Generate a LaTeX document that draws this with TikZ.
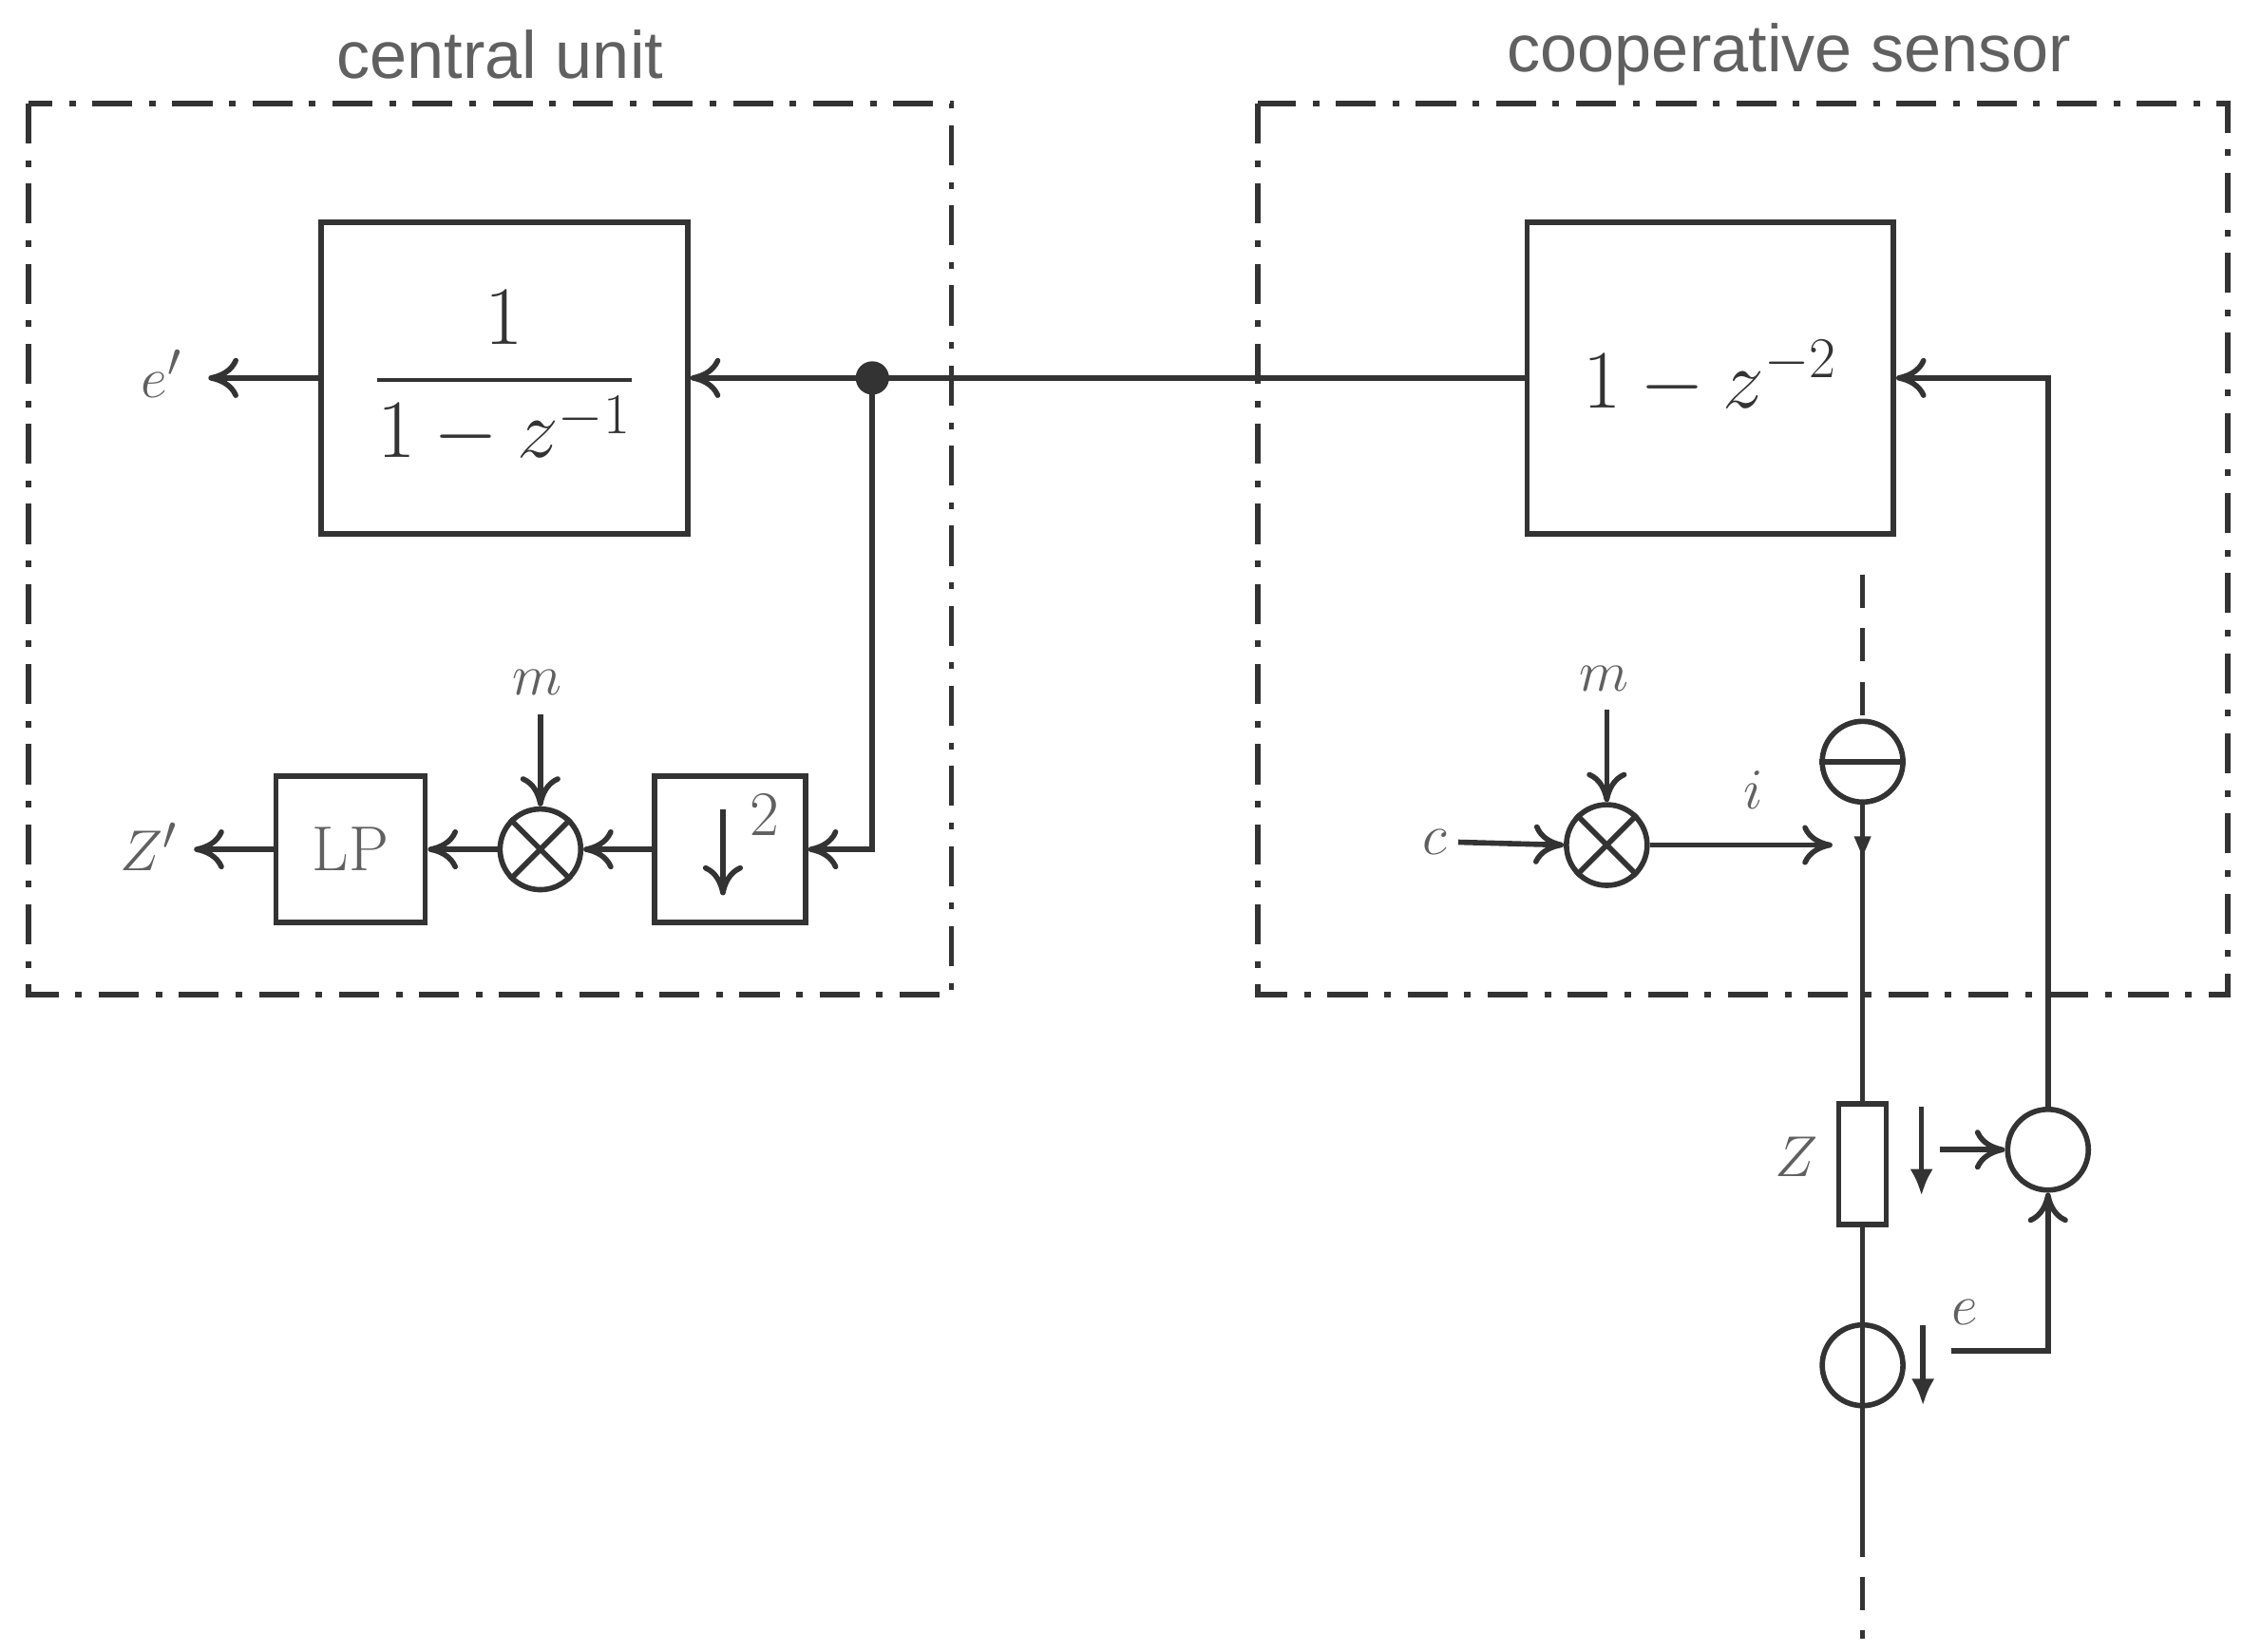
\documentclass[tikz,border=0pt]{standalone}
\usepackage{fontspec}
\usepackage{amsmath}
\setsansfont{Liberation Sans}
\usetikzlibrary{arrows.meta}
\usetikzlibrary{calc}
\usetikzlibrary{positioning}
\definecolor{mygray}{HTML}{333333}
\definecolor{mylabel}{HTML}{606060}
\tikzset{every node/.style={text=mygray}}
\tikzstyle{block} = [draw=mygray, fill=white, line width=1.6pt, inner sep=0pt]
\tikzstyle{ln} = [draw=mygray, line width=1.6pt, -{To[length=9pt,width=12pt]}]
\tikzstyle{wire} = [draw=mygray, line width=1.6pt]
\tikzstyle{frame} = [draw=mygray, line width=1.6pt, dash pattern=on 12pt off 5pt on 2pt off 5pt]
\tikzstyle{mix} = [circle, draw=mygray, line width=1.6pt, minimum size=0.85cm, inner sep=0pt]
\tikzstyle{lbl} = [text=mylabel, font={\fontsize{19}{22}\selectfont}]
\begin{document}
\begin{tikzpicture}[x=0.01513cm, y=-0.01513cm]
  \useasboundingbox (0,0) rectangle (1560,1149);
  % frames
  \draw[frame] (20,72) rectangle (662,692);
  \draw[frame] (875,72) rectangle (1550,692);
  \node[text=mylabel, font={\sffamily\fontsize{20}{24}\selectfont}] at (348,38) {central unit};
  \node[text=mylabel, font={\sffamily\fontsize{20}{24}\selectfont}] at (1245,38) {cooperative sensor};
  % central unit
  \node[block, minimum width=3.86cm, minimum height=3.28cm, font={\fontsize{23}{27}\selectfont}] (integ) at (351,263) {$\dfrac{1}{1-z^{-1}}$};
  \coordinate (junc) at (607,263);
  \coordinate (eout) at (145,263);
  \node[lbl, anchor=east] at (135,260) {$e'$};
  \node[block, minimum width=1.59cm, minimum height=1.54cm] (down) at (508,591) {};
  \draw[wire, -{To[length=9pt,width=12pt]}] ($(down.center)+(-5,-28)$) -- ($(down.center)+(-5,32)$);
  \node[lbl] at ($(down.center)+(24,-24)$) {2};
  \node[mix] (mixa) at (376,591) {};
  \draw[wire] (mixa.north west) -- (mixa.south east) (mixa.north east) -- (mixa.south west);
  \node[lbl] (ma) at (374,475) {$m$};
  \node[block, minimum width=1.57cm, minimum height=1.54cm, lbl] (lp) at (244,591) {LP};
  \coordinate (zout) at (135,591);
  \node[lbl, anchor=east] at (132,589) {$Z'$};
  \path[ln] (junc) -- (integ.east);
  \path[ln] (integ.west) -- (eout);
  \fill[mygray] (junc) circle (5pt);
  \path[ln] (junc) |- (down.east);
  \path[ln] (down.west) -- (mixa.east);
  \path[ln] ($(ma.south)+(2,5)$) -- (mixa.north);
  \path[ln] (mixa.west) -- (lp.east);
  \path[ln] (lp.west) -- (zout);
  % cooperative sensor
  \node[block, minimum width=3.86cm, minimum height=3.28cm, font={\fontsize{24}{28}\selectfont}] (diff) at (1190,263) {$1-z^{-2}$};
  \draw[wire] (diff.west) -- (junc);
  \node[mix] (mixb) at (1118,588) {};
  \draw[wire] (mixb.north west) -- (mixb.south east) (mixb.north east) -- (mixb.south west);
  \node[lbl] (mb) at (1116,472) {$m$};
  \node[lbl] (cin) at (998,586) {$c$};
  \coordinate (iend) at (1275,588);
  \node[lbl] at (1220,550) {$i$};
  \path[ln] ($(mb.south)+(2,5)$) -- (mixb.north);
  \path[ln] (cin.east) -- (mixb.west);
  \path[ln] (mixb.east) -- (iend);
  % circuit
  \coordinate (top) at (1296,400);
  \node[mix] (isrc) at (1296,530) {};
  \draw[wire] (isrc.west) -- (isrc.east);
  \draw[wire, dash pattern=on 10pt off 6pt] (top) -- (isrc.north);
  \node[block, minimum width=0.5cm, minimum height=1.27cm] (res) at (1296,810) {};
  \node[lbl] at (1250,805) {$Z$};
  \node[mix] (usrc) at (1296,950) {};
  \draw[wire] (usrc.north) -- (usrc.south);
  \coordinate (bot) at (1296,1140);
  \draw[wire] (isrc.south) -- (res.north);
  \fill[mygray] (1290,582) -- (1302,582) -- (1296,596) -- cycle;
  \draw[wire] (res.south) -- (usrc.north);
  \draw[wire] (usrc.south) -- (1296,1060);
  \draw[wire, dash pattern=on 10pt off 6pt] (1296,1060) -- (bot);
  \node[mix] (sum) at (1425,800) {};
  \draw[wire, -{Latex[length=8pt,width=7pt]}] (1337,770) -- (1337,832);
  \draw[wire, -{Latex[length=8pt,width=7pt]}] (1338,922) -- (1338,978);
  \coordinate (zs) at (1350,800);
  \coordinate (es) at (1358,940);
  \node[lbl] at (1367,913) {$e$};
  \path[ln] (zs) -- (sum.west);
  \path[ln] (es) -| (sum.south);
  \path[ln] (sum.north) |- (diff.east);
\end{tikzpicture}
\end{document}
